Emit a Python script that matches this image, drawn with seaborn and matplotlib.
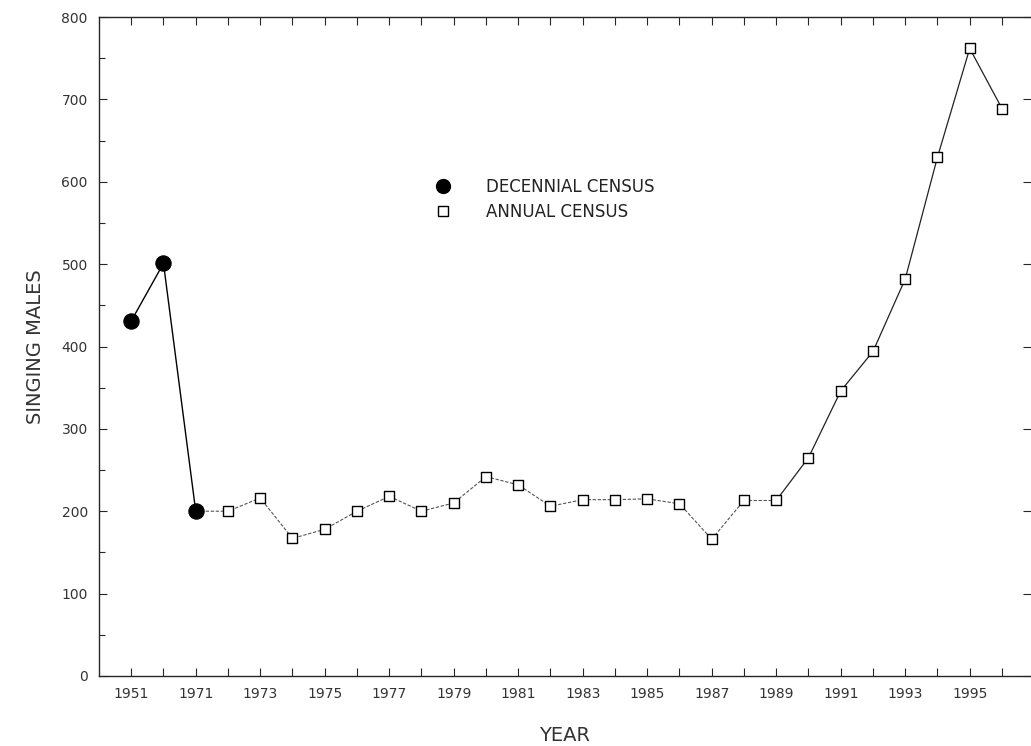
import matplotlib
matplotlib.use('Agg')
import matplotlib.pyplot as plt
from matplotlib.lines import Line2D
from matplotlib.ticker import MultipleLocator
import pandas as pd
import seaborn as sns

# decennial counts, then annual counts from 1971 on
decennial_years = ['1951', '1961', '1971']
decennial_males = [431, 501, 200]

annual_years = ['1971', '1972', '1973', '1974', '1975', '1976', '1977', '1978',
                '1979', '1980', '1981', '1982', '1983', '1984', '1985', '1986',
                '1987', '1988', '1989', '1990', '1991', '1992', '1993', '1994',
                '1995', '1996']
annual_males = [200, 200, 216, 167, 178, 200, 218, 200,
                210, 242, 232, 206, 214, 214, 215, 209,
                166, 213, 213, 265, 346, 394, 482, 630,
                762, 689]

all_years = decennial_years + annual_years[1:]
shown_labels = ['1951', '1971', '1973', '1975', '1977', '1979', '1981', '1983',
                '1985', '1987', '1989', '1991', '1993', '1995']

pos = {y: i for i, y in enumerate(all_years)}
dec = pd.DataFrame({'x': [pos[y] for y in decennial_years], 'males': decennial_males})
ann = pd.DataFrame({'x': [pos[y] for y in annual_years], 'males': annual_males})
flat = ann[ann['x'] <= pos['1989']]
rise = ann[ann['x'] >= pos['1989']]

sns.set_style('ticks')
plt.rcParams['font.family'] = ['DejaVu Sans']

fig = plt.figure(figsize=(10.31, 7.46), dpi=100)
ax = fig.add_axes([0.096, 0.094, 0.904, 0.883])

# the flat stretch reads as a faint dotted line in the scan, the climb as solid
sns.lineplot(data=flat, x='x', y='males', color='#555555', linewidth=0.8,
             linestyle=(0, (3, 1.5)), ax=ax)
sns.lineplot(data=rise, x='x', y='males', color='#222222', linewidth=0.9, ax=ax)
sns.lineplot(data=dec, x='x', y='males', color='black', linewidth=1.0, ax=ax)
sns.scatterplot(data=ann.iloc[1:], x='x', y='males', marker='s', s=60,
                facecolor='white', edgecolor='black', linewidth=1.0, ax=ax, zorder=3)
sns.scatterplot(data=dec, x='x', y='males', marker='o', s=120,
                color='black', edgecolor='black', ax=ax, zorder=4)

ax.set_xlim(-1, 27.9)
ax.set_ylim(0, 800)
ax.set_xticks(range(len(all_years)))
ax.set_xticklabels([y if y in shown_labels else '' for y in all_years])
ax.yaxis.set_major_locator(MultipleLocator(100))
ax.yaxis.set_minor_locator(MultipleLocator(50))

ax.tick_params(axis='both', which='major', direction='in', length=6, width=0.8,
               labelsize=10, labelcolor='#333333', pad=8)
ax.tick_params(axis='y', which='minor', direction='in', length=4, width=0.8)
ax.tick_params(top=True, right=True, which='major')
ax.tick_params(axis='y', which='minor', right=False)
ax.spines['right'].set_visible(False)
for s in ['left', 'bottom', 'top']:
    ax.spines[s].set_linewidth(1.0)

ax.set_xlabel('YEAR', fontsize=14, color='#333333', labelpad=18)
ax.set_ylabel('SINGING MALES', fontsize=14, color='#333333', labelpad=12)

handles = [
    Line2D([], [], marker='o', color='black', linestyle='none', markersize=10),
    Line2D([], [], marker='s', markerfacecolor='white', markeredgecolor='black',
           linestyle='none', markersize=7),
]
ax.legend(handles, ['DECENNIAL CENSUS', 'ANNUAL CENSUS'], frameon=False,
          loc='center left', bbox_to_anchor=(0.335, 0.723), fontsize=12,
          handletextpad=1.6, labelspacing=0.4, labelcolor='#222222')

fig.savefig('out.png', dpi=100, facecolor='white')
